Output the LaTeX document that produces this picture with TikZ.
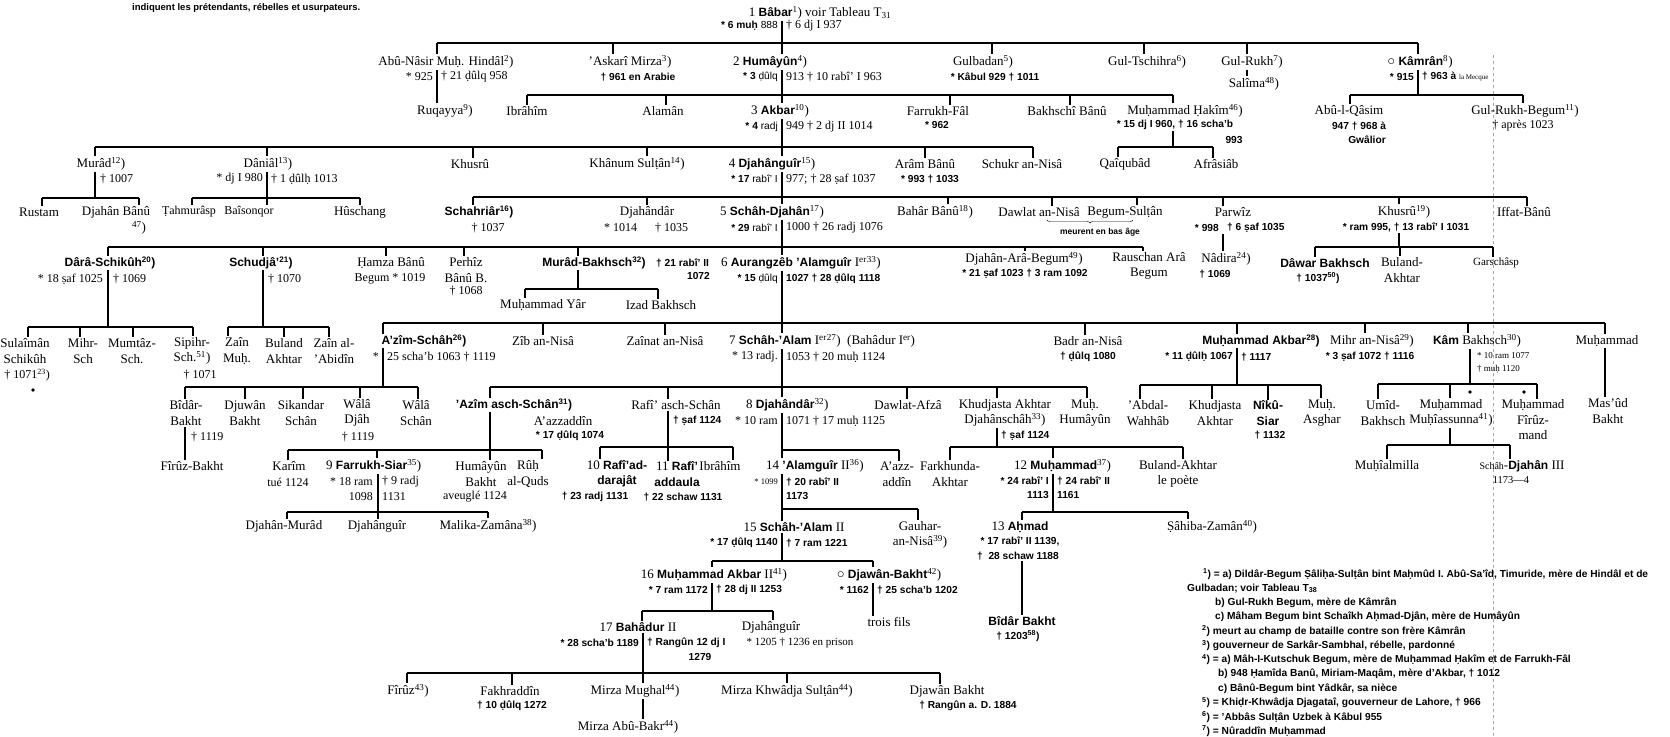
\documentclass[tikz,border=0pt]{standalone}
\usepackage{fontspec}
\setmainfont{Liberation Serif}
\setsansfont{Liberation Sans}
\usetikzlibrary{decorations.pathreplacing}
\newcommand\fn[1]{\textsuperscript{#1})}
\newcommand\bx[1]{{\fontsize{12}{15.5}\selectfont\sffamily\bfseries #1}}
\newcommand\tkk[3]{\draw[ln] (#1,#2) -- (#3.north -| #1,#2);}
\newcommand\vdd[3]{\draw[ln] (#3.south -| #1,#2) -- (#1,#2);}
\newcommand\hbb[3]{\draw[ln] (#1,#3) -- (#2,#3);}
\tikzset{
 nm/.style={font=\fontsize{13}{15.5}\selectfont, inner sep=1pt, align=center},
 bn/.style={font=\fontsize{12}{15.5}\selectfont\sffamily\bfseries, inner sep=1pt, align=center},
 dt/.style={font=\fontsize{10.2}{12}\selectfont\sffamily\bfseries, inner sep=1pt},
 ds/.style={font=\fontsize{12}{13}\selectfont, inner sep=1pt},
 fnt/.style={font=\fontsize{10.2}{11}\selectfont\sffamily\bfseries, inner sep=0pt, anchor=west},
 ln/.style={line width=1.2pt},
 dl/.style={anchor=east}, dr/.style={anchor=west},
}
\begin{document}
\begin{tikzpicture}[x=1pt,y=-1pt]
\useasboundingbox (0,0) rectangle (1670,736);
\fill[white] (0,0) rectangle (1670,736);
\draw[black!35, dash pattern=on 3pt off 3pt, line width=0.5pt] (1493,55) -- (1493,736);
\node[font=\fontsize{9.5}{11}\selectfont\sffamily\bfseries, anchor=west, inner sep=0] (cap) at (132,8) {indiquent les prétendants, rébelles et usurpateurs.};
% R1
\node[nm] (babar) at (820,13) {1 \bx{Bâbar}\fn{1} voir Tableau T\textsubscript{31}};
\node[dt,dl] (babarL) at (779,26) {* 6 muḥ {\mdseries 888}};
\node[ds,dr] (babarR) at (785,26) {† 6 dj I 937};
\vdd{782}{43}{babar}
\hbb{437}{1418}{43}
% R2
\node[nm] (hindal) at (446,62) {Abû-Nâsir Muḥ. Hindâl\fn{2}};
\node[ds,dl] (hindalL) at (434,77) {* 925};
\node[ds,dr] (hindalR) at (440,77) {† 21 ḍûlq 958};
\node[nm] (ruqayya) at (445,111) {Ruqayya\fn{9}};
\tkk{437}{43}{hindal}
\draw[ln] (hindal.south -| 437,0) -- (ruqayya.north -| 437,0);
\node[nm] (askari) at (630,62) {'Askarî Mirza\fn{3}};
\node[dt] (askariD) at (638,77) {† 961 en Arabie};
\tkk{613}{43}{askari}
\node[nm] (humayun) at (770,62) {2 \bx{Humâyûn}\fn{4}};
\node[dt,dl] (humL) at (779,77) {* 3 {\mdseries ḍûlq}};
\node[ds,dr] (humR) at (785,77) {913 † 10 rabî' I 963};
\tkk{782}{43}{humayun}
\vdd{782}{95}{humayun}
\hbb{527}{1173}{95}
\node[nm] (gulbadan) at (983,62) {Gulbadan\fn{5}};
\node[dt] (gulbadanD) at (995,77) {* Kâbul 929 † 1011};
\tkk{992}{43}{gulbadan}
\node[nm] (gultsch) at (1147,62) {Gul-Tschihra\fn{6}};
\tkk{1144}{43}{gultsch}
\node[nm] (gulrukh) at (1252,62) {Gul-Rukh\fn{7}};
\tkk{1247}{43}{gulrukh}
\node[nm] (salima) at (1254,84) {Salîma\fn{48}};
\draw[ln] (gulrukh.south -| 1247,0) -- (salima.north -| 1247,0);
\node[nm] (kamran) at (1420,62) {○ \bx{Kâmrân}\fn{8}};
\node[dt,dl] (kamL) at (1415,77) {* 915};
\node[dt,dr] (kamR) at (1421,77) {† 963 à {\fontsize{7}{8}\selectfont\rmfamily\mdseries la Mecque}};
\tkk{1418}{43}{kamran}
\vdd{1418}{95}{kamran}
\hbb{1350}{1523}{95}
% R3
\node[nm] (ibrahim) at (527,111) {Ibrâhîm}; \tkk{527}{95}{ibrahim}
\node[nm] (alaman) at (663,111) {Alamân}; \tkk{666}{95}{alaman}
\node[nm] (akbar) at (780,111) {3 \bx{Akbar}\fn{10}}; \tkk{782}{95}{akbar}
\node[dt,dl] (akbarL) at (779,127) {* 4 {\mdseries radj}};
\node[ds,dr] (akbarR) at (785,127) {949 † 2 dj II 1014};
\vdd{782}{147}{akbar}
\hbb{95}{1033}{147}
\node[nm] (farrukhfal) at (938,111) {Farrukh-Fâl}; \tkk{950}{95}{farrukhfal}
\node[dt] (ffD) at (937,125) {* 962};
\node[nm] (bakhschi) at (1067,111) {Bakhschî Bânû}; \tkk{1070}{95}{bakhschi}
\node[nm] (hakim) at (1185,111) {Muḥammad Ḥakîm\fn{46}}; \tkk{1173}{95}{hakim}
\node[dt] (hakimD) at (1175,125) {* 15 dj I 960, † 16 scha'b};
\node[dt] (hakimE) at (1234,140) {993};
\vdd{1173}{147}{hakimD}
\hbb{1118}{1213}{147}
\node[nm] (abulqasim) at (1349,111) {Abû-l-Qâsim}; \tkk{1350}{95}{abulqasim}
\node[dt] (abuqD) at (1359,126) {947 † 968 à};
\node[dt] (abuqE) at (1367,140) {Gwâlior};
\node[nm] (gulrukhb) at (1525,111) {Gul-Rukh-Begum\fn{11}}; \tkk{1523}{95}{gulrukhb}
\node[ds] (grbD) at (1523,126) {† après 1023};
% R4
\node[nm] (murad) at (101,164) {Murâd\fn{12}}; \tkk{95}{147}{murad}
\node[ds,dr] (muradD) at (99,179) {† 1007};
\vdd{95}{198}{murad}
\hbb{42}{139}{198}
\node[nm] (daniyal) at (268,164) {Dâniâl\fn{13}}; \tkk{267}{147}{daniyal}
\node[ds,dl] (danL) at (264,179) {* dj I 980};
\node[ds,dr] (danR) at (270,179) {† 1 ḍûlḥ 1013};
\vdd{267}{198}{daniyal}
\hbb{192}{360}{198}
\node[nm] (khusru) at (470,164) {Khusrû}; \tkk{473}{147}{khusru}
\node[nm] (khanum) at (637,164) {Khânum Sulṭân\fn{14}}; \tkk{647}{147}{khanum}
\node[nm] (djahanguir) at (772,164) {4 \bx{Djahânguîr}\fn{15}}; \tkk{782}{147}{djahanguir}
\node[dt,dl] (djgL) at (779,179) {* 17 {\mdseries rabî' I}};
\node[ds,dr] (djgR) at (785,179) {977; † 28 ṣaf 1037};
\vdd{782}{197}{djahanguir}
\hbb{473}{1527}{197}
\node[nm] (aram) at (925,164) {Arâm Bânû}; \tkk{925}{147}{aram}
\node[dt] (aramD) at (930,179) {* 993 † 1033};
\node[nm] (schukr) at (1022,164) {Schukr an-Nisâ}; \tkk{1033}{147}{schukr}
\node[nm] (qaiqubad) at (1125,164) {Qaîqubâd}; \tkk{1118}{147}{qaiqubad}
\node[nm] (afrasiab) at (1216,164) {Afrâsiâb}; \tkk{1213}{147}{afrasiab}
% R5
\node[nm] (rustam) at (39,212) {Rustam}; \tkk{42}{198}{rustam}
\node[nm] (djbanu) at (116,212) {Djahân Bânû}; \tkk{139}{198}{djbanu}
\node[nm] (djbanuF) at (139,228) {\fn{47}};
\node[nm,font=\fontsize{12}{14}\selectfont] (tahmurasp) at (189,212) {Ṭahmurâsp}; \tkk{192}{198}{tahmurasp}
\node[nm,font=\fontsize{12}{14}\selectfont] (baisonqor) at (249,212) {Baîsonqor}; \tkk{267}{198}{baisonqor}
\node[nm] (huschang) at (360,212) {Hûschang}; \tkk{360}{198}{huschang}
\node[bn] (schahriar) at (479,212) {Schahriâr\fn{16}}; \tkk{473}{197}{schahriar}
\node[ds] (schahriarD) at (488,228) {† 1037};
\node[nm] (djahandar) at (647,212) {Djahândâr}; \tkk{647}{197}{djahandar}
\node[ds] (djahandarD) at (646,228) {* 1014\hspace{1.5em}† 1035};
\node[nm] (schahdj) at (772,212) {5 \bx{Schâh-Djahân}\fn{17}}; \tkk{782}{197}{schahdj}
\node[dt,dl] (sdjL) at (779,228) {* 29 {\mdseries rabî' I}};
\node[ds,dr] (sdjR) at (785,228) {1000 † 26 radj 1076};
\vdd{782}{247}{schahdj}
\hbb{108}{1143}{247}
\node[nm] (bahar) at (935,212) {Bahâr Bânû\fn{18}}; \tkk{948}{197}{bahar}
\node[nm] (dawlat) at (1039,212) {Dawlat an-Nisâ}; \tkk{1052}{197}{dawlat}
\node[nm] (begsul) at (1125,212) {Begum-Sulṭân}; \tkk{1137}{197}{begsul}
\draw[decorate,decoration={brace,amplitude=3pt,mirror}] (1047,220) -- (1133,220);
\node[font=\fontsize{8.5}{10}\selectfont\sffamily\bfseries, inner sep=1pt] (meurent) at (1100,232) {meurent en bas âge};
\node[nm] (parwiz) at (1233,212) {Parwîz}; \tkk{1223}{197}{parwiz}
\node[dt,dl] (parL) at (1220,228) {* 998};
\node[dt,dr] (parR) at (1226,228) {† 6 ṣaf 1035};
\node[nm] (khusru2) at (1404,212) {Khusrû\fn{19}}; \tkk{1399}{197}{khusru2}
\node[dt] (khusru2D) at (1406,227) {* ram 995, † 13 rabî' I 1031};
\vdd{1399}{247}{khusru2D}
\hbb{1315}{1493}{247}
\node[nm] (iffat) at (1524,212) {Iffat-Bânû}; \tkk{1527}{197}{iffat}
% R6
\node[bn] (dara) at (110,263) {Dârâ-Schikûh\fn{20}}; \tkk{108}{247}{dara}
\node[ds,dl] (daraL) at (104,279) {* 18 ṣaf 1025};
\node[ds,dr] (daraR) at (112,279) {† 1069};
\vdd{108}{327}{dara}
\hbb{28}{193}{327}
\node[bn] (schudja) at (261,263) {Schudjâ'\fn{21}}; \tkk{263}{247}{schudja}
\node[ds,dr] (schudjaD) at (267,279) {† 1070};
\vdd{263}{327}{schudja}
\hbb{228}{329}{327}
\node[nm] (hamza) at (391,263) {Ḥamza Bânû}; \tkk{386}{247}{hamza}
\node[ds] (hamzaD) at (390,279) {Begum * 1019};
\node[nm] (perhiz) at (466,270) {Perhîz\\Bânû B.}; \tkk{464}{247}{perhiz}
\node[ds] (perhizD) at (466,291) {† 1068};
\node[bn] (muradb) at (594,263) {Murâd-Bakhsch\fn{32}}; \tkk{578}{247}{muradb}
\node[dt,dr] (muradbD) at (655,263) {† 21 rabî' II};
\node[dt,dl] (muradbE) at (711,276) {1072};
\vdd{578}{289}{muradb}
\hbb{525}{658}{289}
\node[nm] (muhyar) at (543,305) {Muḥammad Yâr}; \tkk{525}{289}{muhyar}
\node[nm] (izad) at (661,305) {Izad Bakhsch}; \tkk{658}{289}{izad}
\node[nm,anchor=west] (aurang) at (720,263) {6 \bx{Aurangzêb 'Alamguîr} I\textsuperscript{er}\fn{33}}; \tkk{782}{247}{aurang}
\node[dt,dl] (aurL) at (779,279) {* 15 {\mdseries ḍûlq}};
\node[dt,dr] (aurR) at (785,279) {1027 † 28 ḍûlq 1118};
\vdd{782}{323}{aurang}
\hbb{383}{1605}{323}
\node[nm] (djahanara) at (1024,259) {Djahân-Arâ-Begum\fn{49}}; \tkk{1025}{247}{djahanara}
\node[dt] (djaD) at (1025,274) {* 21 ṣaf 1023 † 3 ram 1092};
\node[nm] (rauschan) at (1149,266) {Rauschan Arâ\\Begum}; \tkk{1143}{247}{rauschan}
\node[nm] (nadira) at (1226,259) {Nâdira\fn{24}};
\node[dt] (nadiraD) at (1215,274) {† 1069};
\draw[ln] (parR.south -| 1223,0) -- (nadira.north -| 1223,0);
\node[bn] (dawar) at (1325,263) {Dâwar Bakhsch}; \tkk{1315}{247}{dawar}
\node[dt] (dawarD) at (1318,278) {† 1037\fn{50}};
\node[nm] (bulanda) at (1402,270) {Buland-\\Akhtar}; \tkk{1400}{247}{bulanda}
\node[nm,font=\fontsize{11}{13}\selectfont] (garschasp) at (1496,263) {Garschâsp}; \tkk{1493}{247}{garschasp}
% R7
\node[nm] (sulaiman) at (25,351) {Sulaîmân\\Schikûh}; \tkk{28}{327}{sulaiman}
\node[ds] (sulaimanD) at (27,375) {† 1071\fn{23}};
\fill (33,390) circle[radius=1.8pt];
\node[nm] (mihrsch) at (83,351) {Mihr-\\Sch}; \tkk{80}{327}{mihrsch}
\node[nm] (mumtaz) at (132,351) {Mumtâz-\\Sch.}; \tkk{133}{327}{mumtaz}
\node[nm] (sipihr) at (192,351) {Sipihr-\\Sch.\fn{51}}; \tkk{193}{327}{sipihr}
\node[ds] (sipihrD) at (200,375) {† 1071};
\node[nm] (zainm) at (237,351) {Zaîn\\Muḥ.}; \tkk{228}{327}{zainm}
\node[nm] (bulands) at (284,351) {Buland\\Akhtar}; \tkk{284}{327}{bulands}
\node[nm] (zainal) at (334,351) {Zaîn al-\\'Abidîn}; \tkk{329}{327}{zainal}
\node[bn] (azimschah) at (424,341) {A'zîm-Schâh\fn{26}}; \tkk{383}{323}{azimschah}
\node[ds,dl] (azL) at (380,357) {*};
\node[ds,dr] (azR) at (386,357) {25 scha'b 1063 † 1119};
\vdd{383}{387}{azimschah}
\hbb{185}{418}{387}
\node[nm] (zib) at (543,341) {Zîb an-Nisâ}; \tkk{543}{323}{zib}
\node[nm] (zainat) at (665,341) {Zaînat an-Nisâ}; \tkk{665}{323}{zainat}
\node[nm,anchor=west] (schahalam) at (728,341) {7 \bx{Schâh-'Alam} I\textsuperscript{er}\fn{27}\ \ (Bahâdur I\textsuperscript{er})}; \tkk{782}{323}{schahalam}
\node[ds,dl] (saL) at (779,357) {* 13 radj.};
\node[ds,dr] (saR) at (785,357) {1053 † 20 muḥ 1124};
\vdd{782}{387}{schahalam}
\hbb{490}{1087}{387}
\node[nm] (badr) at (1088,341) {Badr an-Nisâ}; \tkk{1085}{323}{badr}
\node[dt] (badrD) at (1088,357) {† ḍûlq 1080};
\node[bn] (muhakbar) at (1261,341) {Muḥammad Akbar\fn{28}}; \tkk{1237}{323}{muhakbar}
\node[dt,dl] (maL) at (1234,357) {* 11 ḍûlḥ 1067};
\node[dt,dr] (maR) at (1240,357) {† 1117};
\vdd{1237}{385}{muhakbar}
\hbb{1140}{1321}{385}
\node[nm] (mihrnisa) at (1372,341) {Mihr an-Nisâ\fn{29}}; \tkk{1365}{323}{mihrnisa}
\node[dt] (mihrnisaD) at (1370,357) {* 3 ṣaf 1072 † 1116};
\node[nm] (kamb) at (1477,341) {\bx{Kâm} Bakhsch\fn{30}}; \tkk{1468}{323}{kamb}
\node[ds,dr,font=\fontsize{9}{10}\selectfont] (kambD) at (1476,356) {* 10 ram 1077};
\node[ds,dr,font=\fontsize{9}{10}\selectfont] (kambE) at (1476,369) {† muḥ 1120};
\vdd{1470}{384}{kamb}
\hbb{1378}{1537}{384}
\node[nm] (muh7) at (1607,341) {Muḥammad}; \tkk{1605}{323}{muh7}
\node[nm] (masud) at (1608,411) {Mas'ûd\\Bakht};
\draw[ln] (muh7.south -| 1605,0) -- (masud.north -| 1605,0);
% R8
\node[nm] (bidar) at (186,413) {Bîdâr-\\Bakht}; \tkk{185}{387}{bidar}
\node[ds,dr] (bidarD) at (190,437) {† 1119};
\node[nm] (firuzb) at (192,466) {Fîrûz-Bakht};
\draw[ln] (bidar.south -| 185,0) -- (firuzb.north -| 185,0);
\node[nm] (djuwan) at (245,413) {Djuwân\\Bakht}; \tkk{245}{387}{djuwan}
\node[nm] (sikandar) at (301,413) {Sikandar\\Schân}; \tkk{303}{387}{sikandar}
\node[nm] (walad) at (357,413) {Wâlâ\\Djâh}; \tkk{360}{387}{walad}
\node[ds] (waladD) at (358,437) {† 1119};
\node[nm] (walas) at (416,413) {Wâlâ\\Schân}; \tkk{418}{387}{walas}
\node[bn] (azimasch) at (514,405) {'Azîm asch-Schân\fn{31}}; \tkk{490}{387}{azimasch}
\vdd{490}{450}{azimasch}
\hbb{288}{542}{450}
\node[nm] (aazz) at (563,421) {A'azzaddîn};
\node[dt] (aazzD) at (570,436) {* 17 ḍûlq 1074};
\node[nm] (rafi) at (676,405) {Rafî' asch-Schân}; \tkk{668}{387}{rafi}
\node[dt,dr] (rafiD) at (672,421) {† ṣaf 1124};
\vdd{668}{447}{rafi}
\hbb{600}{733}{447}
\node[nm,anchor=west] (djahandar2) at (745,405) {8 \bx{Djahândâr}\fn{32}}; \tkk{782}{387}{djahandar2}
\node[ds,dl] (dj2L) at (779,421) {* 10 ram};
\node[ds,dr] (dj2R) at (785,421) {1071 † 17 muḥ 1125};
\vdd{782}{450}{djahandar2}
\hbb{782}{899}{450}
\node[nm] (dawlatafza) at (908,405) {Dawlat-Afzâ}; \tkk{907}{387}{dawlatafza}
\node[nm] (khudj) at (1005,413) {Khudjasta Akhtar\\Djahânschâh\fn{33}}; \tkk{997}{387}{khudj}
\node[dt,dr] (khudjD) at (1000,436) {† ṣaf 1124};
\vdd{997}{447}{khudj}
\hbb{950}{1183}{447}
\node[nm] (muhhum) at (1085,413) {Muḥ.\\Humâyûn}; \tkk{1087}{387}{muhhum}
\node[nm] (abdal) at (1148,413) {'Abdal-\\Wahhâb}; \tkk{1140}{385}{abdal}
\node[nm] (khudj2) at (1215,413) {Khudjasta\\Akhtar}; \tkk{1212}{385}{khudj2}
\node[bn] (niku) at (1268,413) {Nîkû-\\Siar}; \tkk{1268}{385}{niku}
\node[dt] (nikuD) at (1270,435) {† 1132};
\node[nm] (asghar) at (1322,413) {Muḥ.\\Asghar}; \tkk{1321}{385}{asghar}
\node[nm] (umid) at (1383,413) {Umîd-\\Bakhsch}; \tkk{1378}{384}{umid}
\node[nm] (muhyi) at (1451,413) {Muḥammad\\Muḥîassunna\fn{41}}; \tkk{1450}{384}{muhyi}
\fill (1470,392) circle[radius=1.8pt];
\fill (1524,392) circle[radius=1.8pt];
\node[nm] (firuzmand) at (1533,420) {Muḥammad\\Fîrûz-\\mand}; \tkk{1537}{384}{firuzmand}
\vdd{1450}{445}{muhyi}
\hbb{1387}{1510}{445}
\node[nm] (muhyimilla) at (1387,466) {Muḥîalmilla}; \tkk{1387}{445}{muhyimilla}
\node[nm] (sdj3) at (1522,466) {{\fontsize{10}{12}\selectfont Schâh}-\bx{Djahân} III}; \tkk{1510}{445}{sdj3}
\node[ds,font=\fontsize{10.5}{12}\selectfont] (sdj3D) at (1511,480) {1173—4};
% R9
\node[nm] (karim) at (289,466) {Karîm}; \tkk{288}{450}{karim}
\node[ds] (karimD) at (288,482) {tué 1124};
\node[nm,anchor=west] (farrukhs) at (325,466) {9 \bx{Farrukh-Siar}\fn{35}}; \tkk{377}{450}{farrukhs}
\node[ds,dl] (fsL) at (374,482) {* 18 ram};
\node[ds,dr] (fsR) at (381,482) {† 9 radj};
\node[ds,dl] (fsL2) at (374,497) {1098};
\node[ds,dr] (fsR2) at (381,497) {1131};
\vdd{378}{512}{farrukhs}
\hbb{287}{488}{512}
\node[nm] (humbakht) at (481,474) {Humâyûn\\Bakht}; \tkk{490}{450}{humbakht}
\node[ds] (humbakhtD) at (475,497) {aveuglé 1124};
\node[nm] (ruh) at (528,474) {Rûḥ\\al-Quds}; \tkk{542}{450}{ruh}
\node[nm] (rafiad) at (617,474) {10 \bx{Rafî'ad-}\\\bx{darajât}}; \tkk{600}{447}{rafiad}
\node[dt] (rafiadD) at (595,497) {† 23 radj 1131};
\node[nm] (rafiadd) at (677,474) {11 \bx{Rafî'}\\\bx{addaula}}; \tkk{668}{447}{rafiadd}
\node[dt] (rafiaddD) at (683,497) {† 22 schaw 1131};
\node[nm] (ibrahim2) at (720,466) {Ibrâhîm}; \tkk{733}{447}{ibrahim2}
\node[nm,anchor=west] (alamguir2) at (765,466) {14 \bx{'Alamguîr} II\fn{36}}; \tkk{782}{450}{alamguir2}
\node[ds,dl,font=\fontsize{8.5}{10}\selectfont] (a2L) at (779,482) {* 1099};
\node[dt,dr] (a2R) at (785,482) {† 20 rabî' II};
\node[dt,dr] (a2R2) at (785,496) {1173};
\vdd{782}{509}{alamguir2}
\hbb{782}{918}{509}
\node[nm] (aazz2) at (897,474) {A'azz-\\addîn}; \tkk{899}{450}{aazz2}
\node[nm] (farkhunda) at (950,474) {Farkhunda-\\Akhtar}; \tkk{950}{447}{farkhunda}
\node[nm,anchor=west] (muh12) at (1013,466) {12 \bx{Muḥammad}\fn{37}}; \tkk{1053}{447}{muh12}
\node[dt,dl] (m12L) at (1050,481) {* 24 rabî' I};
\node[dt,dr] (m12R) at (1056,481) {† 24 rabî' II};
\node[dt,dl] (m12L2) at (1050,495) {1113};
\node[dt,dr] (m12R2) at (1056,495) {1161};
\vdd{1053}{512}{muh12}
\hbb{1022}{1188}{512}
\node[nm] (bulandp) at (1178,474) {Buland-Akhtar\\le poète}; \tkk{1183}{447}{bulandp}
% R10
\node[nm] (djmurad) at (284,526) {Djahân-Murâd}; \tkk{287}{512}{djmurad}
\node[nm] (djg3) at (377,526) {Djahânguîr}; \tkk{378}{512}{djg3}
\node[nm] (malika) at (488,526) {Malika-Zamâna\fn{38}}; \tkk{488}{512}{malika}
\node[nm] (schahalam2) at (794,527) {15 \bx{Schâh-'Alam} II}; \tkk{782}{509}{schahalam2}
\node[dt,dl] (s2L) at (779,543) {* 17 ḍûlq 1140};
\node[dt,dr] (s2R) at (785,543) {† 7 ram 1221};
\vdd{782}{561}{schahalam2}
\hbb{712}{873}{561}
\node[nm] (gauhar) at (920,535) {Gauhar-\\an-Nisâ\fn{39}}; \tkk{918}{509}{gauhar}
\node[nm] (ahmad) at (1020,527) {13 \bx{Aḥmad}}; \tkk{1022}{512}{ahmad}
\node[dt] (ahmadD) at (1020,541) {* 17 rabî' II 1139,};
\node[dt] (ahmadE) at (1018,556) {† \ 28 schaw 1188};
\node[bn] (bidarb) at (1022,621) {Bîdâr Bakht};
\node[dt] (bidarbD) at (1018,636) {† 1203\fn{58}};
\draw[ln] (ahmadE.south -| 1022,0) -- (bidarb.north -| 1022,0);
\node[nm] (sahiba) at (1212,527) {Ṣâhiba-Zamân\fn{40}}; \tkk{1188}{512}{sahiba}
% R11
\node[nm] (akbar2) at (714,575) {16 \bx{Muḥammad Akbar} II\fn{41}}; \tkk{712}{561}{akbar2}
\node[dt,dl] (ak2L) at (709,590) {* 7 ram 1172};
\node[dt,dr] (ak2R) at (715,590) {† 28 dj II 1253};
\vdd{712}{611}{akbar2}
\hbb{642}{773}{611}
\node[nm] (djawanb) at (889,575) {○ \bx{Djawân-Bakht}\fn{42}}; \tkk{873}{561}{djawanb}
\node[dt,dl] (dbL) at (870,590) {* 1162};
\node[dt,dr] (dbR) at (876,590) {† 25 scha'b 1202};
\node[nm] (trois) at (889,622) {trois fils};
\draw[ln] (djawanb.south -| 873,0) -- (trois.north -| 873,0);
% R12
\node[nm] (bahadur) at (638,627) {17 \bx{Bahâdur} II}; \tkk{642}{611}{bahadur}
\node[dt,dl] (bhL) at (640,643) {* 28 scha'b 1189};
\node[dt,dr] (bhR) at (646,643) {† Rangûn 12 dj I};
\node[dt] (bhE) at (700,657) {1279};
\vdd{643}{673}{bahadur}
\hbb{407}{940}{673}
\node[nm] (djg4) at (771,627) {Djahânguîr}; \tkk{773}{611}{djg4}
\node[ds,font=\fontsize{11}{12}\selectfont] (djg4D) at (800,643) {* 1205 † 1236 en prison};
% R13
\node[nm] (firuz) at (408,691) {Fîrûz\fn{43}}; \tkk{407}{673}{firuz}
\node[nm] (fakhr) at (510,691) {Fakhraddîn}; \tkk{512}{673}{fakhr}
\node[dt] (fakhrD) at (512,706) {† 10 ḍûlq 1272};
\node[nm] (mughal) at (635,691) {Mirza Mughal\fn{44}}; \tkk{643}{673}{mughal}
\node[nm] (abubakr) at (628,727) {Mirza Abû-Bakr\fn{44}};
\draw[ln] (mughal.south -| 643,0) -- (abubakr.north -| 643,0);
\node[nm] (khwadja) at (787,691) {Mirza Khwâdja Sulṭân\fn{44}}; \tkk{787}{673}{khwadja}
\node[nm] (djawanb2) at (947,691) {Djawân Bakht}; \tkk{940}{673}{djawanb2}
\node[dt] (djawanb2D) at (968,706) {† Rangûn a. D. 1884};
% footnotes
\node[fnt] (f1) at (1203,574) {\textsuperscript{1}) = a) Dildâr-Begum Ṣâliḥa-Sulṭân bint Maḥmûd I. Abû-Sa'îd, Timuride, mère de Hindâl et de};
\node[fnt] (f2) at (1187,588.3) {Gulbadan; voir Tableau T\textsubscript{38}};
\node[fnt] (f3) at (1215,602.6) {b) Gul-Rukh Begum, mère de Kâmrân};
\node[fnt] (f4) at (1215,616.9) {c) Mâham Begum bint Schaîkh Aḥmad-Djân, mère de Humâyûn};
\node[fnt] (f5) at (1202,631.2) {\textsuperscript{2}) meurt au champ de bataille contre son frère Kâmrân};
\node[fnt] (f6) at (1202,645.5) {\textsuperscript{3}) gouverneur de Sarkâr-Sambhal, rébelle, pardonné};
\node[fnt] (f7) at (1202,659.8) {\textsuperscript{4}) = a) Mâh-I-Kutschuk Begum, mère de Muḥammad Ḥakîm et de Farrukh-Fâl};
\node[fnt] (f8) at (1218,674.1) {b) 948 Ḥamîda Banû, Miriam-Maqâm, mère d'Akbar, † 1012};
\node[fnt] (f9) at (1218,688.4) {c) Bânû-Begum bint Yâdkâr, sa nièce};
\node[fnt] (f10) at (1202,702.7) {\textsuperscript{5}) = Khiḍr-Khwâdja Djagataî, gouverneur de Lahore, † 966};
\node[fnt] (f11) at (1202,717) {\textsuperscript{6}) = 'Abbâs Sulṭân Uzbek à Kâbul 955};
\node[fnt] (f12) at (1202,731.3) {\textsuperscript{7}) = Nûraddîn Muḥammad};
\end{tikzpicture}
\end{document}
